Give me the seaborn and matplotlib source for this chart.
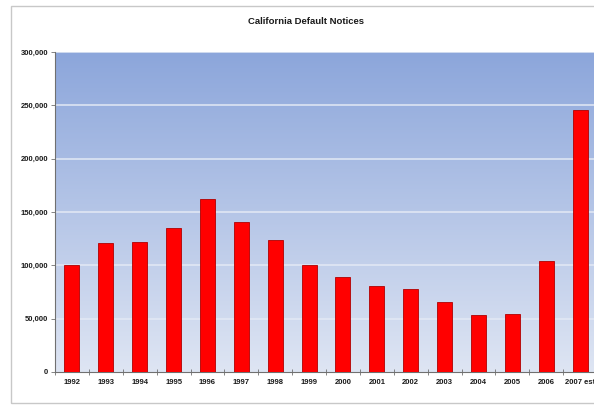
import numpy as np
import pandas as pd
import matplotlib
matplotlib.use("Agg")
import matplotlib.pyplot as plt
from matplotlib.patches import Rectangle
from matplotlib.ticker import FuncFormatter, MultipleLocator, FixedLocator
import seaborn as sns

# Data
years = ["1992", "1993", "1994", "1995", "1996", "1997", "1998", "1999",
         "2000", "2001", "2002", "2003", "2004", "2005", "2006", "2007 est"]
notices = [100000, 121000, 122000, 135000, 162000, 141000, 124000, 100500,
           89000, 81000, 78000, 66000, 53000, 54000, 104000, 246000]
title = "California Default Notices"

df = pd.DataFrame({"year": years, "notices": notices})

sns.set_style("white")
plt.rcParams["font.family"] = ["Liberation Sans", "DejaVu Sans"]

W, H = 594, 408
fig = plt.figure(figsize=(W / 100, H / 100), dpi=100)
fig.patch.set_facecolor("white")

# chart frame
fig.add_artist(Rectangle((11 / W, 1 - 403 / H), 1.2, (403 - 6) / H,
                         transform=fig.transFigure, fill=False,
                         edgecolor="#c8c8c8", linewidth=1.0))

left, right, top, bottom = 55, 597, 52, 372
ax = fig.add_axes([left / W, 1 - bottom / H, (right - left) / W, (bottom - top) / H])

# vertical gradient plot background
grad = np.linspace(0, 1, 256).reshape(-1, 1)
top_c = np.array([140, 166, 219]) / 255
bot_c = np.array([222, 229, 243]) / 255
img = top_c[None, None, :] * (1 - grad[:, :, None]) + bot_c[None, None, :] * grad[:, :, None]
ax.imshow(img, extent=[-0.5, len(years) - 0.5, 0, 300000], aspect="auto",
          zorder=0, origin="upper")

sns.barplot(data=df, x="year", y="notices", color="#ff0000", saturation=1,
            width=0.44, edgecolor="#b00000", linewidth=0.6, ax=ax, zorder=3)

ax.set_xlim(-0.5, len(years) - 0.5)
ax.set_ylim(0, 300000)
ax.yaxis.set_major_locator(MultipleLocator(50000))
ax.yaxis.set_major_formatter(FuncFormatter(lambda v, p: f"{int(v):,}"))
for yv in range(50000, 300001, 50000):
    ax.axhline(yv, color="#e3e9f5", linewidth=1.1, zorder=1)

ax.set_xlabel("")
ax.set_ylabel("")
fig.text(306 / W, 1 - 22 / H, title, fontsize=6.8, fontweight="bold",
         color="#1a1a1a", ha="center", va="center")

for s in ["top", "right"]:
    ax.spines[s].set_visible(False)
for s in ["left", "bottom"]:
    ax.spines[s].set_color("#707070")
    ax.spines[s].set_linewidth(0.8)

ax.tick_params(axis="y", direction="out", length=3, width=0.6, color="#707070",
               labelsize=5.5, pad=2, labelcolor="#1a1a1a", left=True)
ax.tick_params(axis="x", which="major", length=0, labelsize=5.5, pad=5,
               labelcolor="#1a1a1a")
ax.xaxis.set_minor_locator(FixedLocator(np.arange(-0.5, len(years), 1.0)))
ax.tick_params(axis="x", which="minor", direction="inout", length=4, width=0.6,
               color="#707070", bottom=True)
for lbl in ax.get_xticklabels() + ax.get_yticklabels():
    lbl.set_fontweight("bold")

fig.savefig("out.png", dpi=100)
